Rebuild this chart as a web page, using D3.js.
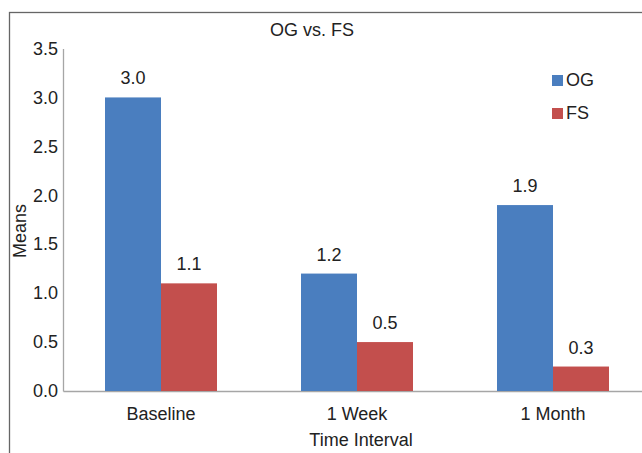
<!DOCTYPE html>
<html>
<head>
<meta charset="utf-8">
<script src="https://cdn.jsdelivr.net/npm/d3@7"></script>
<style>
  html, body { margin: 0; padding: 0; background: #fff; }
  svg { display: block; font-family: "Liberation Sans", Arial, sans-serif; }
</style>
</head>
<body>
<svg id="chart" width="642" height="453"></svg>
<script>
// Mean scores per time interval for the two groups
const categories = ["Baseline", "1 Week", "1 Month"];
const seriesNames = ["OG", "FS"];
const ogValues = [3.0, 1.2, 1.9];
const fsValues = [1.1, 0.5, 0.25];
const yTicks = [0, 0.5, 1.0, 1.5, 2.0, 2.5, 3.0, 3.5];
const colors = ["#4a7ebf", "#c34f4d"];

const svg = d3.select("#chart");
const textColor = "#222";
const fontSize = 18;

// outer chart frame
svg.append("rect")
  .attr("x", 9.5).attr("y", 12.5)
  .attr("width", 700).attr("height", 500)
  .attr("fill", "none")
  .attr("stroke", "#666")
  .attr("stroke-width", 1.3);

const plot = { left: 63, right: 651, top: 48.5, bottom: 391 };

const x0 = d3.scaleBand()
  .domain(categories)
  .range([plot.left, plot.right])
  .paddingInner(0).paddingOuter(0);

const x1 = d3.scaleBand()
  .domain(seriesNames)
  .range([0, 112]);

const y = d3.scaleLinear()
  .domain([0, 3.5])
  .range([plot.bottom, plot.top]);

const rows = categories.map((c, i) => ({
  category: c,
  values: [
    { series: "OG", value: ogValues[i] },
    { series: "FS", value: fsValues[i] }
  ]
}));

// y axis
const yAxis = svg.append("g")
  .attr("transform", `translate(${plot.left},0)`)
  .call(d3.axisLeft(y).tickValues(yTicks).tickFormat(d3.format(".1f")).tickSize(0).tickPadding(5));
yAxis.select(".domain").attr("stroke", "#a6a6a6").attr("stroke-width", 1.3);
yAxis.selectAll("text")
  .attr("fill", textColor)
  .style("font-size", fontSize + "px")
  .style("font-family", "Liberation Sans, Arial, sans-serif");

// x axis
const xAxis = svg.append("g")
  .attr("transform", `translate(0,${plot.bottom})`)
  .call(d3.axisBottom(x0).tickSize(0).tickPadding(16));
xAxis.select(".domain").attr("stroke", "#a6a6a6").attr("stroke-width", 1.3);
xAxis.selectAll("text")
  .attr("fill", textColor)
  .style("font-size", fontSize + "px")
  .style("font-family", "Liberation Sans, Arial, sans-serif");

// bars
const groups = svg.append("g").selectAll("g")
  .data(rows)
  .join("g")
  .attr("transform", d => `translate(${x0(d.category) + x0.bandwidth() / 2 - 56},0)`);

groups.selectAll("rect")
  .data(d => d.values)
  .join("rect")
  .attr("x", d => x1(d.series))
  .attr("y", d => y(d.value))
  .attr("width", x1.bandwidth())
  .attr("height", d => y(0) - y(d.value))
  .attr("fill", (d, i) => colors[i]);

// value labels
groups.selectAll("text.value")
  .data(d => d.values)
  .join("text")
  .attr("class", "value")
  .attr("x", d => x1(d.series) + x1.bandwidth() / 2)
  .attr("y", d => y(d.value) - 13)
  .attr("text-anchor", "middle")
  .attr("fill", textColor)
  .style("font-size", fontSize + "px")
  .text(d => d3.format(".1f")(d.value));

// title
svg.append("text")
  .attr("x", 312).attr("y", 36)
  .attr("text-anchor", "middle")
  .attr("fill", textColor)
  .style("font-size", "18px")
  .text("OG vs. FS");

// axis titles
svg.append("text")
  .attr("x", (plot.left + plot.right) / 2 + 4).attr("y", 446)
  .attr("text-anchor", "middle")
  .attr("fill", textColor)
  .style("font-size", fontSize + "px")
  .text("Time Interval");

svg.append("text")
  .attr("transform", `translate(26,231) rotate(-90)`)
  .attr("text-anchor", "middle")
  .attr("fill", textColor)
  .style("font-size", fontSize + "px")
  .text("Means");

// legend
const legend = svg.append("g").attr("transform", "translate(552,75)");
const items = legend.selectAll("g")
  .data(seriesNames)
  .join("g")
  .attr("transform", (d, i) => `translate(0,${i * 33})`);
items.append("rect")
  .attr("width", 11).attr("height", 11)
  .attr("fill", (d, i) => colors[i]);
items.append("text")
  .attr("x", 14).attr("y", 11)
  .attr("fill", textColor)
  .style("font-size", fontSize + "px")
  .text(d => d);
</script>
</body>
</html>
